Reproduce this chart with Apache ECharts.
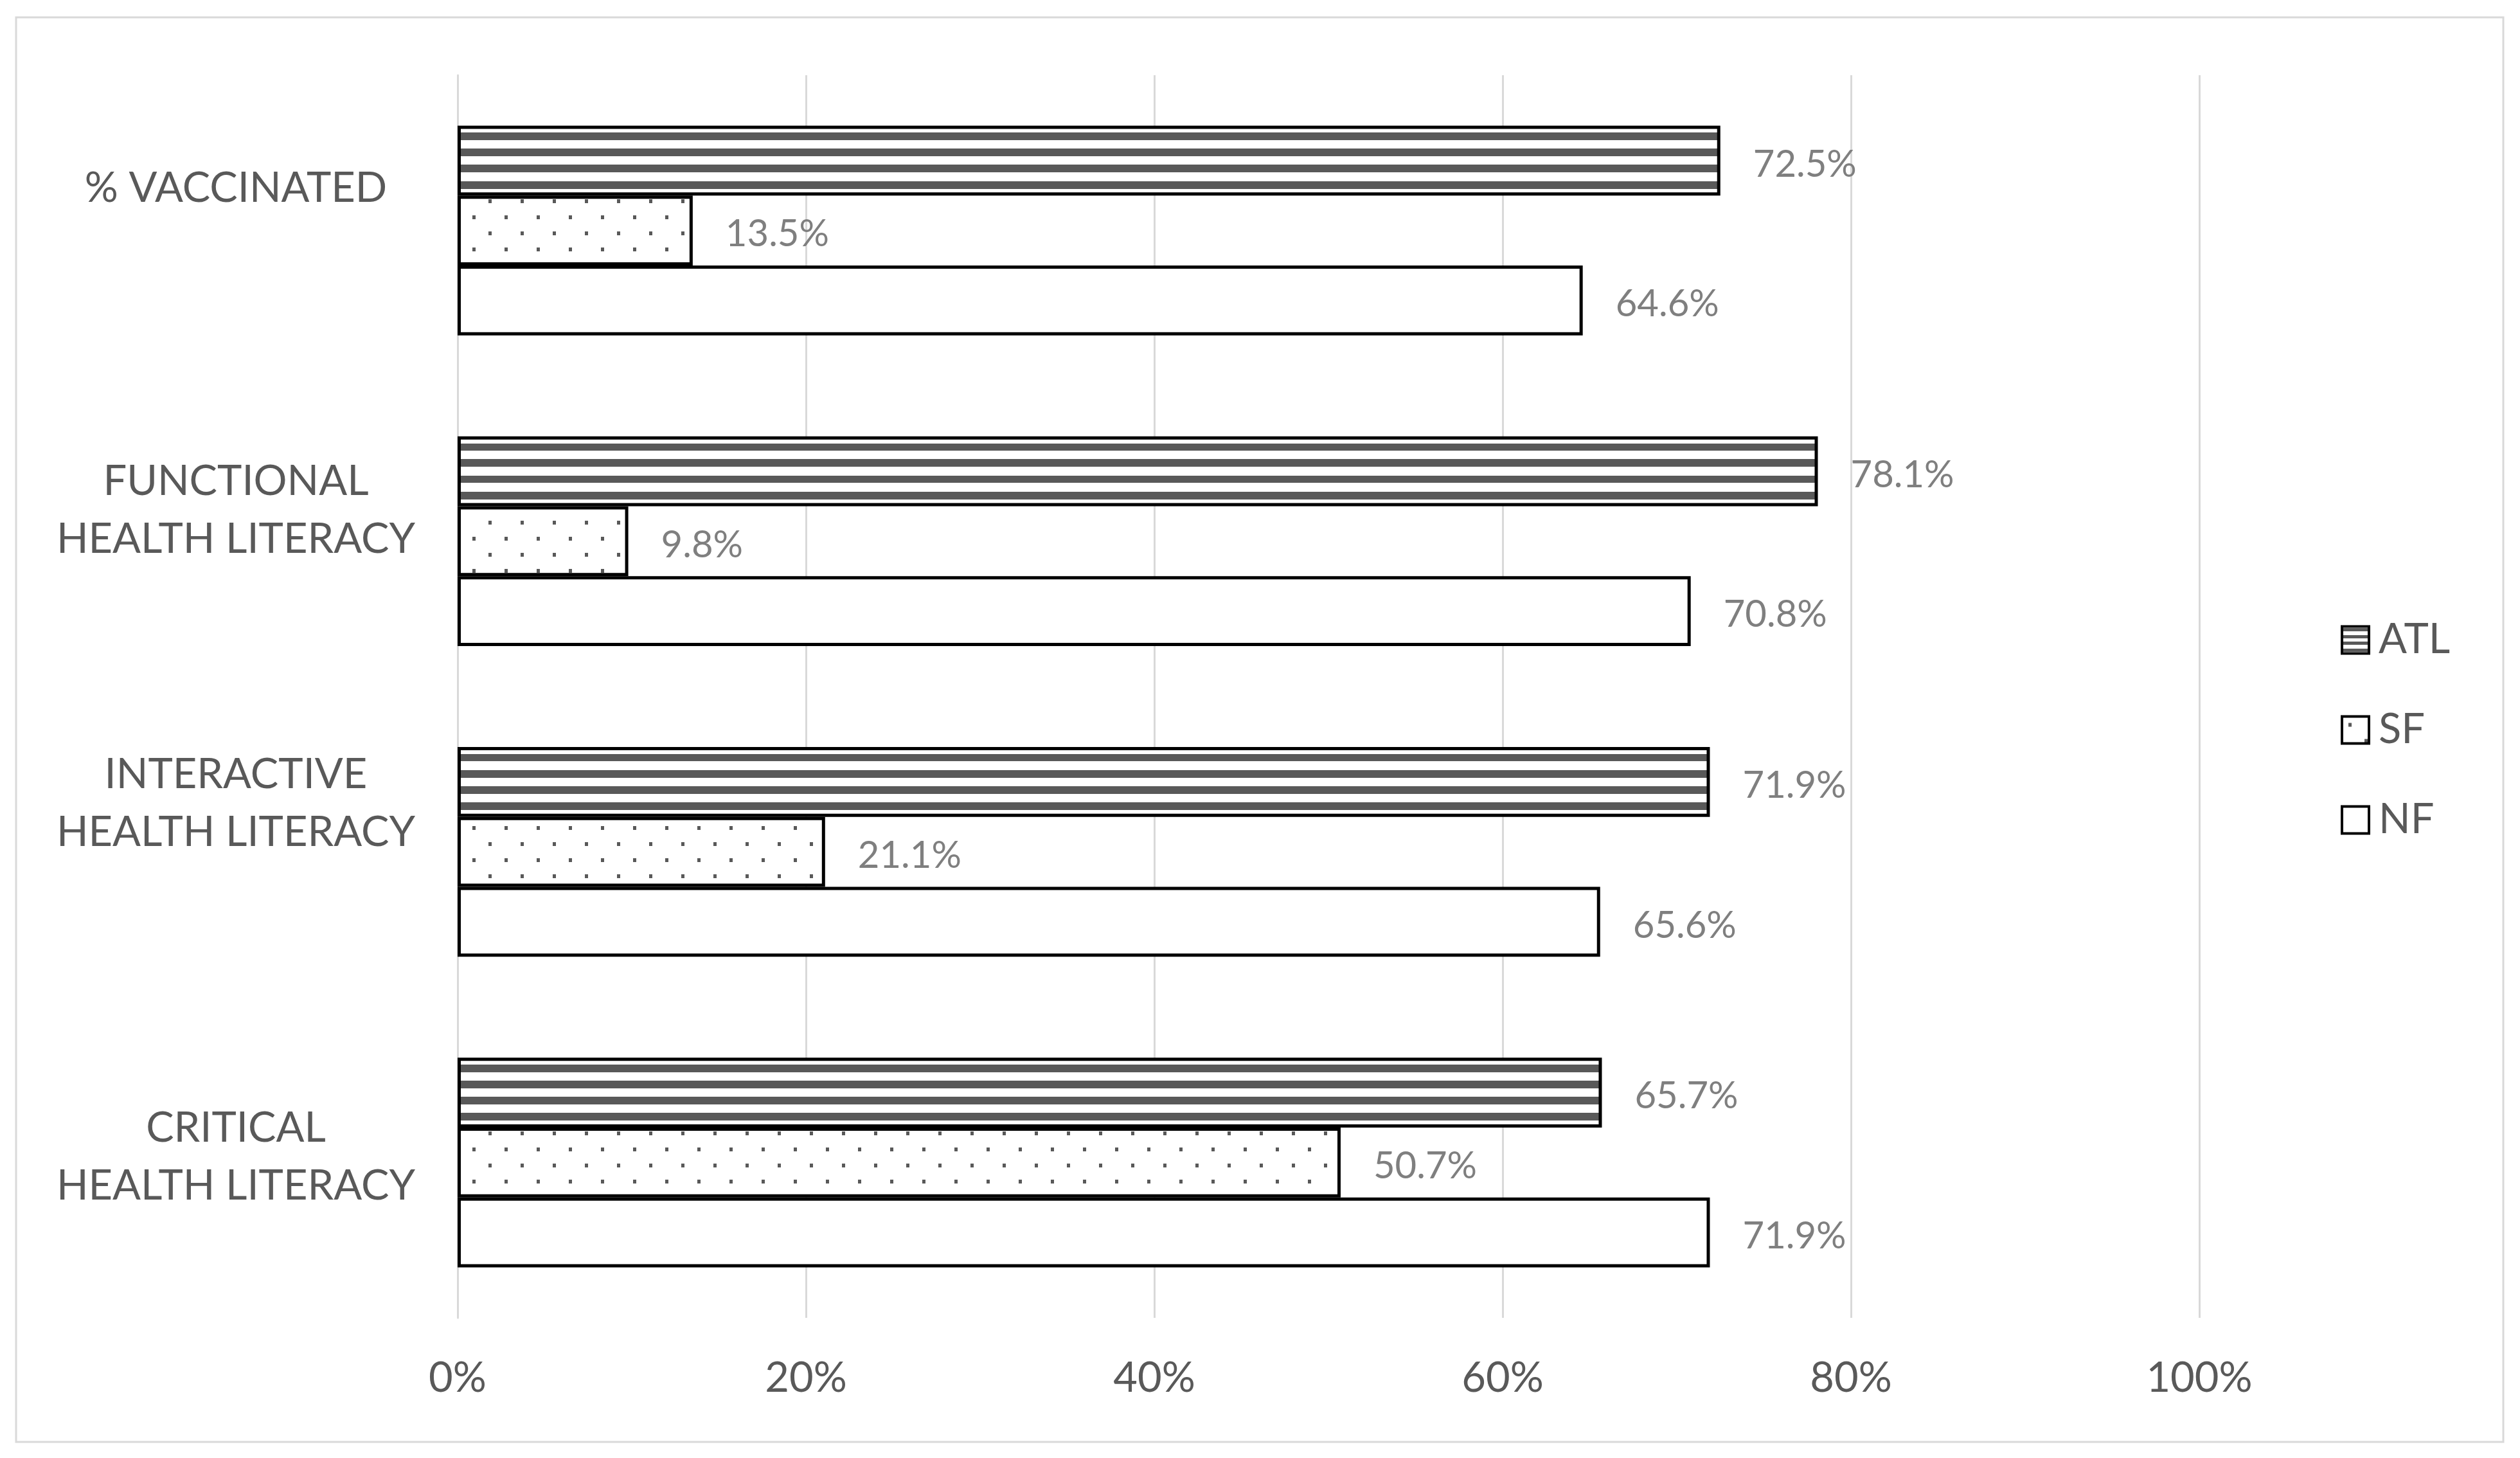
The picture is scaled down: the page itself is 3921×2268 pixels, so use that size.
<!DOCTYPE html>
<html>
<head>
<meta charset="utf-8">
<script src="https://cdn.jsdelivr.net/npm/echarts@6/dist/echarts.min.js"></script>
<style>
html,body{margin:0;padding:0;background:#fff;}
#chart{width:3921px;height:2268px;}
</style>
</head>
<body>
<div id="chart"></div>
<script>
// ---- data ----
const categories = ['% VACCINATED', 'FUNCTIONAL\nHEALTH LITERACY', 'INTERACTIVE\nHEALTH LITERACY', 'CRITICAL\nHEALTH LITERACY'];
const seriesNames = ['ATL', 'SF', 'NF'];
const atlValues = [72.5, 78.1, 71.9, 65.7];
const sfValues = [13.5, 9.8, 21.1, 50.7];
const nfValues = [64.6, 70.8, 65.6, 71.9];
const xTickValues = [0, 20, 40, 60, 80, 100];

// ---- styles ----
const FONT = 'Lato';
const TEXT = '#595959';
const LABEL = '#7f7f7f';
const GRID = '#d9d9d9';
const DARK = '#595959';
// vertical shift (px, upward) of each category label, as in the reference
const labelShift = [66, 48, 75, 8];

// stripes as a per-bar vertical gradient with hard stops
const stripeBands = [[0.10, 0.206], [0.328, 0.437], [0.56, 0.668], [0.791, 0.902]];
const stripeStops = [{offset: 0, color: '#fff'}];
stripeBands.forEach(b => {
  stripeStops.push({offset: b[0], color: '#fff'});
  stripeStops.push({offset: b[0], color: DARK});
  stripeStops.push({offset: b[1], color: DARK});
  stripeStops.push({offset: b[1], color: '#fff'});
});
stripeStops.push({offset: 1, color: '#fff'});
const stripeFill = {type: 'linear', x: 0, y: 0, x2: 0, y2: 1, colorStops: stripeStops};

// dotted pattern
const pc = document.createElement('canvas');
pc.width = 50; pc.height = 50;
const ctx = pc.getContext('2d');
ctx.fillStyle = '#fff'; ctx.fillRect(0, 0, 50, 50);
ctx.fillStyle = DARK;
ctx.fillRect(10, 10, 5, 6);
ctx.fillRect(35, 35, 5, 6);
const dotFill = {image: pc, repeat: 'repeat'};

const fills = [stripeFill, dotFill, '#ffffff'];
const valueSets = [atlValues, sfValues, nfValues];

// rich styles: text lines plus an invisible spacer line that lifts each label
const rich = {t: {fontFamily: FONT, fontSize: 65, color: TEXT, lineHeight: 90, align: 'center'}};
labelShift.forEach((s, i) => {
  rich['s' + i] = {fontSize: 1, lineHeight: Math.max(1, 2 * s), height: Math.max(1, 2 * s)};
});

const chart = echarts.init(document.getElementById('chart'), null, {renderer: 'canvas'});

const option = {
  backgroundColor: '#fff',
  animation: false,
  textStyle: {fontFamily: FONT},
  graphic: [{
    type: 'rect', shape: {x: 25, y: 27, width: 3870, height: 2216},
    style: {fill: 'none', stroke: GRID, lineWidth: 3}, silent: true, z: 0
  }],
  grid: {left: 712, right: 499, top: 117, bottom: 218, containLabel: false, outerBoundsMode: 'none'},
  legend: {
    orient: 'vertical', left: 3637, top: 958,
    itemWidth: 42, itemHeight: 42, itemGap: 75,
    data: seriesNames.map(n => ({name: n, icon: 'rect'})),
    textStyle: {fontFamily: FONT, fontSize: 65, color: TEXT, padding: [0, 0, 0, 10]},
    itemStyle: {borderColor: '#000', borderWidth: 4}
  },
  xAxis: {
    type: 'value', min: 0, max: 100, interval: 20,
    axisLine: {show: false}, axisTick: {show: false},
    splitLine: {show: true, lineStyle: {color: GRID, width: 3}},
    axisLabel: {formatter: '{value}%', fontFamily: FONT, fontSize: 65, color: TEXT, margin: 62}
  },
  yAxis: {
    type: 'category', inverse: true,
    data: categories,
    axisLine: {show: true, lineStyle: {color: GRID, width: 3}},
    axisTick: {show: false},
    axisLabel: {
      fontFamily: FONT, fontSize: 65, color: TEXT, align: 'center', margin: 345,
      formatter: (value, index) => value.split('\n').map(l => '{t|' + l + '}').join('\n') + '\n{s' + index + '| }',
      rich: rich
    }
  },
  series: seriesNames.map((name, k) => ({
    name: name, type: 'bar',
    data: valueSets[k],
    barGap: '0%', barCategoryGap: '32.5%',
    itemStyle: {color: fills[k], borderColor: '#000', borderWidth: 5},
    label: {
      show: true, position: 'right', distance: 51, offset: [0, 6],
      formatter: p => p.value.toFixed(1) + '%',
      fontFamily: FONT, fontSize: 58, color: LABEL
    }
  }))
};
chart.setOption(option);
</script>
</body>
</html>
